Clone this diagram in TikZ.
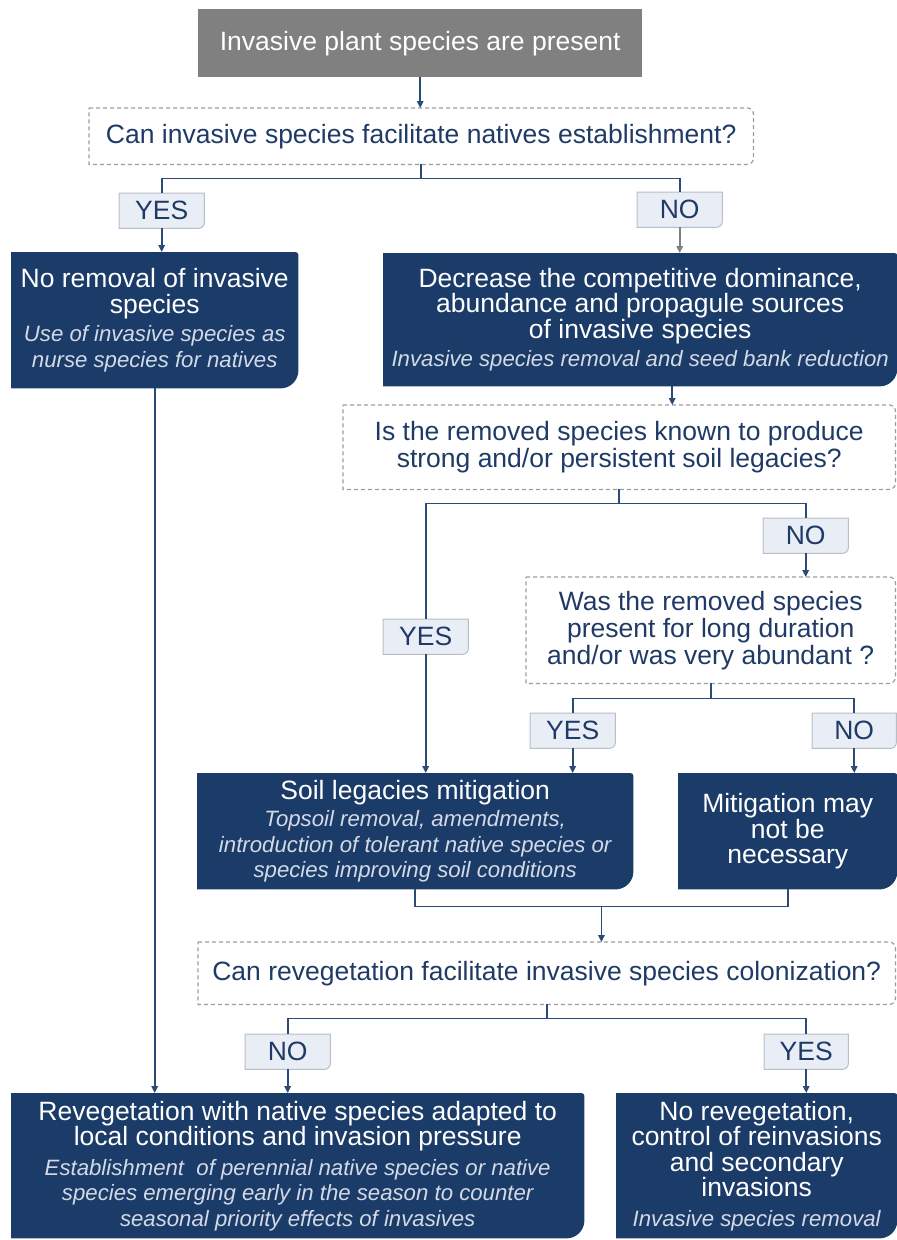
\documentclass[tikz,border=0pt]{standalone}
\usepackage{fontspec}
\setmainfont{Liberation Sans}
\usetikzlibrary{arrows.meta,backgrounds,calc}
\definecolor{navy}{HTML}{1B3B68}
\definecolor{navytext}{HTML}{1F3A66}
\definecolor{linecol}{HTML}{2A4A78}
\definecolor{lblfill}{HTML}{E9EEF6}
\definecolor{lblborder}{HTML}{B8BEC6}
\definecolor{dashcol}{HTML}{9C9C9C}
\definecolor{italcol}{HTML}{D3DAE6}
\definecolor{topgray}{HTML}{808080}
\definecolor{arrgray}{HTML}{7F7F7F}
\newcommand{\myTitle}{\fontsize{26.5}{25.5}\selectfont}
\newcommand{\myQ}{\fontsize{26.5}{27}\selectfont}
\newcommand{\myItal}{\fontsize{22.2}{24.5}\selectfont\itshape\color{italcol}}
\newcommand{\navyshape}[1]{\fill[navy] (#1.north west) -- ([xshift=-3pt]#1.north east) .. controls ([xshift=-1.3pt]#1.north east) and ([yshift=-1.3pt]#1.north east) .. ([yshift=-3pt]#1.north east) -- ([yshift=18pt]#1.south east) .. controls ([yshift=8pt]#1.south east) and ([xshift=-8pt]#1.south east) .. ([xshift=-18pt]#1.south east) -- (#1.south west) -- cycle;}
\newcommand{\dashshape}[1]{\draw[dashcol, line width=1.2pt, dash pattern=on 4pt off 3pt] (#1.north west) -- ([xshift=-6pt]#1.north east) .. controls ([xshift=-2.7pt]#1.north east) and ([yshift=-2.7pt]#1.north east) .. ([yshift=-6pt]#1.north east) -- ([yshift=6pt]#1.south east) .. controls ([yshift=2.7pt]#1.south east) and ([xshift=-2.7pt]#1.south east) .. ([xshift=-6pt]#1.south east) -- (#1.south west) -- cycle;}
\newcommand{\lblshape}[1]{\filldraw[fill=lblfill, draw=lblborder, line width=1pt] (#1.north west) -- (#1.north east) -- ([yshift=6pt]#1.south east) .. controls ([yshift=2.7pt]#1.south east) and ([xshift=-2.7pt]#1.south east) .. ([xshift=-6pt]#1.south east) -- (#1.south west) -- cycle;}
\tikzset{
  base/.style={anchor=north west, inner sep=0pt, align=center},
  navybox/.style={base, text=white, font=\myTitle},
  qbox/.style={base, text=navytext, font=\myQ},
  lbl/.style={base, text=navytext, font=\myTitle, minimum width=85pt, minimum height=35pt},
  conn/.style={draw=linecol, line width=1.8pt},
  arr/.style={-{Triangle[length=7pt,width=6.5pt]}},
}
\begin{document}
\begin{tikzpicture}[x=1pt,y=-1pt]
\useasboundingbox (0,0) rectangle (897,1240);
% nodes
\node[base, fill=topgray, text=white, font=\myTitle, minimum width=444pt, minimum height=68pt] (n0) at (198,9) {Invasive plant species are present};
\node[qbox, minimum width=664pt, minimum height=56pt] (q1) at (89,108) {Can invasive species facilitate natives establishment?};
\node[lbl] (y1) at (119,193) {YES};
\node[lbl] (n1) at (637,192) {NO};
\node[navybox, minimum width=287pt, minimum height=136pt] (b1) at (11,252) {No removal of invasive\\species\\[3pt]\myItal Use of invasive species as\\\myItal nurse species for natives};
\node[navybox, minimum width=514pt, minimum height=133pt] (b2) at (383,253) {Decrease the competitive dominance,\\abundance and propagule sources\\of invasive species\\[3pt]\myItal Invasive species removal and seed bank reduction};
\node[qbox, minimum width=552pt, minimum height=84pt] (q2) at (343,405) {Is the removed species known to produce\\strong and/or persistent soil legacies?};
\node[lbl] (y2) at (383,619) {YES};
\node[lbl] (n2) at (763,518) {NO};
\node[qbox, minimum width=369pt, minimum height=106pt] (q3) at (526,577) {Was the removed species\\present for long duration\\and/or was very abundant ?};
\node[lbl] (y3) at (530,713) {YES};
\node[lbl, minimum width=84pt] (n3) at (812,713) {NO};
\node[navybox, minimum width=436pt, minimum height=116pt] (s) at (197,773) {Soil legacies mitigation\\[2pt]\myItal Topsoil removal, amendments,\\\myItal introduction of tolerant native species or\\\myItal species improving soil conditions};
\node[navybox, minimum width=219pt, minimum height=116pt] (m) at (678,773) {Mitigation may\\not be\\necessary};
\node[qbox, minimum width=697pt, minimum height=62pt] (q4) at (198,942) {Can revegetation facilitate invasive species colonization?};
\node[lbl] (n4) at (245,1034) {NO};
\node[lbl, minimum width=84pt] (y4) at (764,1034) {YES};
\node[navybox, minimum width=573pt, minimum height=145pt] (r) at (11,1093) {Revegetation with native species adapted to\\local conditions and invasion pressure\\[4pt]\myItal Establishment\ \ of perennial native species or native\\\myItal species emerging early in the season to counter\\\myItal seasonal priority effects of invasives};
\node[navybox, minimum width=281pt, minimum height=145pt] (nr) at (616,1093) {No revegetation,\\control of reinvasions\\and secondary\\invasions\\[4pt]\myItal Invasive species removal};
% backgrounds
\begin{scope}[on background layer]
\navyshape{b1}\navyshape{b2}\navyshape{s}\navyshape{m}\navyshape{r}\navyshape{nr}
\dashshape{q1}\dashshape{q2}\dashshape{q3}\dashshape{q4}
\lblshape{y1}\lblshape{n1}\lblshape{y2}\lblshape{n2}\lblshape{y3}\lblshape{n3}\lblshape{n4}\lblshape{y4}
\end{scope}
% connectors
\draw[conn, arr] (n0.south) -- (n0.south |- q1.north);
\draw[conn] (q1.south) -- ++(0,14) -| (y1.north);
\draw[conn] (q1.south) -- ++(0,14) -| (n1.north);
\draw[conn, arr] (y1.south) -- (y1.south |- b1.north);
\draw[draw=arrgray, line width=1.8pt, arr] (n1.south) -- (n1.south |- b2.north);
\draw[conn, arr] ([xshift=32pt]b2.south) -- ([xshift=32pt]b2.south |- q2.north);
\draw[conn] (q2.south) -- ++(0,14) -| (y2.north);
\draw[conn] (q2.south) -- ++(0,14) -| (n2.north);
\draw[conn, arr] (y2.south) -- (y2.south |- s.north);
\draw[conn, arr] (n2.south) -- (n2.south |- q3.north);
\draw[conn] (q3.south) -- ++(0,15) -| (y3.north);
\draw[conn] (q3.south) -- ++(0,15) -| (n3.north);
\draw[conn, arr] (y3.south) -- (y3.south |- s.north);
\draw[conn, arr] (n3.south) -- (n3.south |- m.north);
\draw[conn] (s.south) -- ++(0,17) -| (m.south);
\coordinate (j) at ($(s.south)!0.5!(m.south)+(0,17)$);
\draw[conn, arr] (j) -- (j |- q4.north);
\draw[conn] (q4.south) -- ++(0,14) -| (n4.north);
\draw[conn] (q4.south) -- ++(0,14) -| (y4.north);
\draw[conn, arr] (n4.south) -- (n4.south |- r.north);
\draw[conn, arr] (y4.south) -- (y4.south |- nr.north);
\draw[conn, arr] (b1.south) -- (b1.south |- r.north);
\end{tikzpicture}
\end{document}
